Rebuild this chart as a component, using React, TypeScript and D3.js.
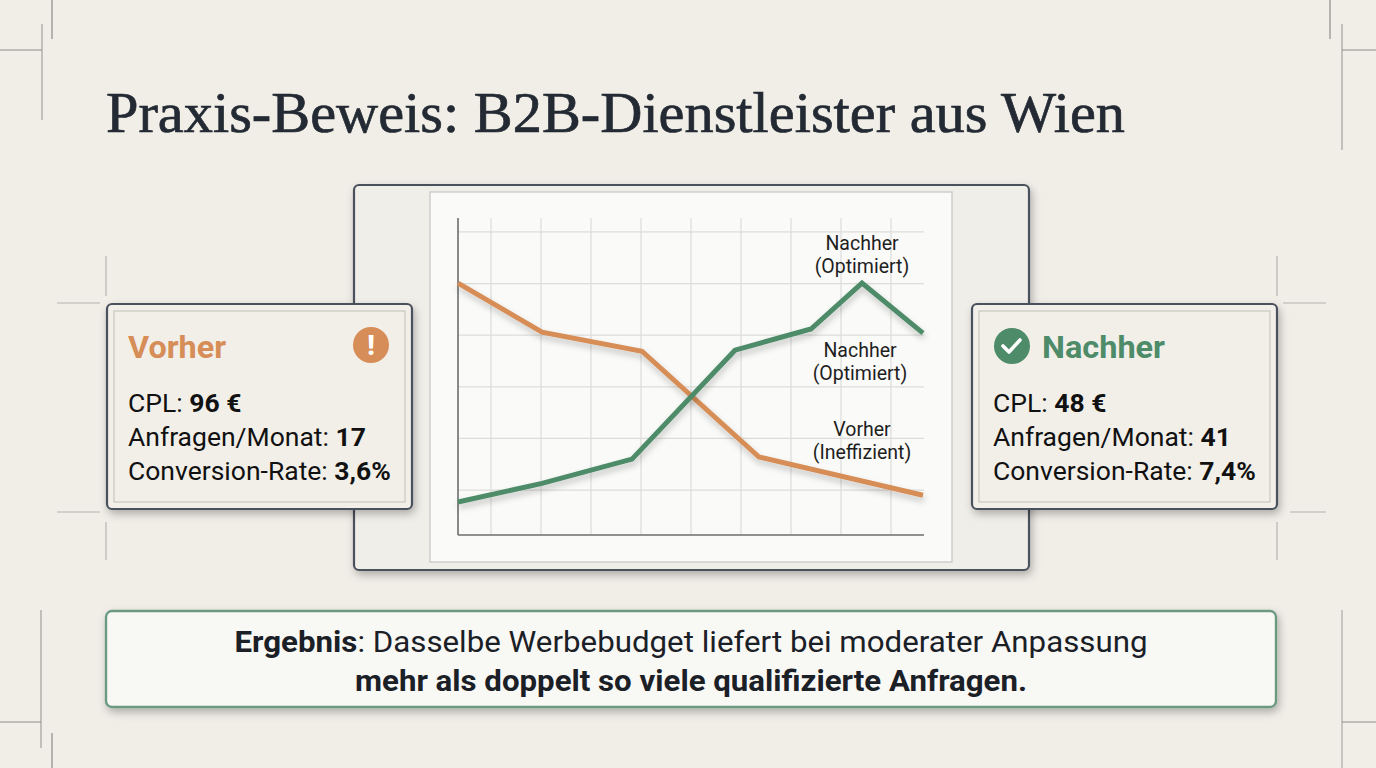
import React from "react";
import * as d3 from "d3";

const titleText = "Praxis-Beweis: B2B-Dienstleister aus Wien";
const xTicks = [1, 2, 3, 4, 5, 6, 7, 8, 9];
const yTicks = [1, 2, 3, 4, 5, 6];
const vorherX = [0.34, 2.02, 4.02, 6.36, 9.64];
const vorherY = [5.01, 4.06, 3.69, 1.64, 0.9];
const nachherX = [0.34, 2.02, 3.82, 5.88, 7.4, 8.42, 9.64];
const nachherY = [0.77, 1.13, 1.6, 3.71, 4.12, 5.01, 4.04];
const chartLabels = [
  { x: 8.42, y: 5.65, l1: "Nachher", l2: "(Optimiert)" },
  { x: 8.38, y: 3.58, l1: "Nachher", l2: "(Optimiert)" },
  { x: 8.42, y: 2.04, l1: "Vorher", l2: "(Ineffizient)" },
];
const vorherMetrics = [
  { label: "CPL: ", value: "96 €" },
  { label: "Anfragen/Monat: ", value: "17" },
  { label: "Conversion-Rate: ", value: "3,6%" },
];
const nachherMetrics = [
  { label: "CPL: ", value: "48 €" },
  { label: "Anfragen/Monat: ", value: "41" },
  { label: "Conversion-Rate: ", value: "7,4%" },
];

const BG = "#f1eee8";
const ORANGE = "#d68d57";
const GREEN = "#4d8b69";
const SANS = "Roboto, 'Noto Sans', sans-serif";

function MetricBox({ x, y, w, h, title, metrics, icon }: any) {
  return (
    <g>
      <rect x={x} y={y} width={w} height={h} rx={5} fill="#f2efe9" stroke="#4a515c" strokeWidth={2.2} filter="url(#shadow)" />
      <rect x={x + 7} y={y + 7} width={w - 14} height={h - 14} fill="none" stroke="#c9c6bf" strokeWidth={1.2} />
      {icon === "warn" && (
        <g>
          <circle cx={x + 264} cy={y + 41} r={18} fill={ORANGE} />
          <text x={x + 264} y={y + 51} textAnchor="middle" fontFamily={SANS} fontWeight={900} fontSize={27} fill="#fff">!</text>
          <text x={x + 21} y={y + 54} fontFamily={SANS} fontWeight={700} fontSize={32} fill={ORANGE} textLength={98} lengthAdjust="spacingAndGlyphs">{title}</text>
        </g>
      )}
      {icon === "check" && (
        <g>
          <circle cx={x + 40} cy={y + 42} r={18} fill={GREEN} />
          <path d={`M${x + 31},${y + 42} l6,6 l11,-12`} fill="none" stroke="#fff" strokeWidth={3.6} strokeLinecap="round" strokeLinejoin="round" />
          <text x={x + 70} y={y + 54} fontFamily={SANS} fontWeight={700} fontSize={32} fill={GREEN} textLength={123} lengthAdjust="spacingAndGlyphs">{title}</text>
        </g>
      )}
      {metrics.map((m: any, i: number) => (
        <text key={i} x={x + 21} y={y + 108 + i * 34} fontFamily={SANS} fontSize={26.5} fill="#111">
          {m.label}
          <tspan fontWeight={700}>{m.value}</tspan>
        </text>
      ))}
    </g>
  );
}

export default function App() {
  const x = d3.scaleLinear().domain([0.34, 9.66]).range([458, 924]);
  const y = d3.scaleLinear().domain([0.13, 6.27]).range([535, 218]);
  const line = d3
    .line<[number, number]>()
    .x((d) => x(d[0]))
    .y((d) => y(d[1]));
  const vData = vorherX.map((v, i) => [v, vorherY[i]] as [number, number]);
  const nData = nachherX.map((v, i) => [v, nachherY[i]] as [number, number]);
  const [x0, x1] = x.range();
  const [y0, y1] = y.range();

  const deco = "#8e8c88";
  return (
    <svg width={1376} height={768} style={{ position: "absolute", left: 0, top: 0 }}>
      <defs>
        <filter id="shadow" x="-10%" y="-10%" width="125%" height="130%">
          <feDropShadow dx={2} dy={4} stdDeviation={4} floodColor="#000" floodOpacity={0.28} />
        </filter>
        <filter id="lshadow" x="-10%" y="-10%" width="120%" height="130%">
          <feDropShadow dx={1} dy={4} stdDeviation={3} floodColor="#000" floodOpacity={0.22} />
        </filter>
        <linearGradient id="fadeR" x1="0" x2="1">
          <stop offset="0" stopColor={deco} stopOpacity={0.9} />
          <stop offset="1" stopColor={deco} stopOpacity={0.1} />
        </linearGradient>
        <linearGradient id="fadeL" x1="1" x2="0">
          <stop offset="0" stopColor={deco} stopOpacity={0.9} />
          <stop offset="1" stopColor={deco} stopOpacity={0.1} />
        </linearGradient>
      </defs>
      <rect width={1376} height={768} fill={BG} />

      {/* decorative corner lines */}
      <g strokeWidth={1.2} fill="none">
        <line x1={52} y1={0} x2={52} y2={39} stroke={deco} />
        <line x1={24} y1={39} x2={176} y2={39} stroke="url(#fadeR)" />
        <line x1={42} y1={24} x2={42} y2={120} stroke={deco} strokeOpacity={0.8} />
        <line x1={0} y1={50} x2={42} y2={50} stroke={deco} />
        <line x1={1330} y1={0} x2={1330} y2={39} stroke={deco} />
        <line x1={1207} y1={39} x2={1358} y2={39} stroke="url(#fadeL)" />
        <line x1={1342} y1={24} x2={1342} y2={150} stroke={deco} strokeOpacity={0.8} />
        <line x1={1342} y1={50} x2={1376} y2={50} stroke={deco} />
        <line x1={41} y1={610} x2={41} y2={748} stroke={deco} strokeOpacity={0.8} />
        <line x1={0} y1={722} x2={41} y2={722} stroke={deco} />
        <line x1={24} y1={733} x2={176} y2={733} stroke="url(#fadeR)" />
        <line x1={52} y1={733} x2={52} y2={768} stroke={deco} />
        <line x1={1342} y1={610} x2={1342} y2={768} stroke={deco} strokeOpacity={0.7} />
        <line x1={1342} y1={722} x2={1376} y2={722} stroke={deco} />
        <line x1={1207} y1={733} x2={1300} y2={733} stroke="url(#fadeL)" />
        <line x1={106} y1={256} x2={106} y2={296} stroke={deco} strokeOpacity={0.6} />
        <line x1={106} y1={522} x2={106} y2={560} stroke={deco} strokeOpacity={0.6} />
        <line x1={57} y1={303} x2={100} y2={303} stroke={deco} strokeOpacity={0.6} />
        <line x1={57} y1={512} x2={100} y2={512} stroke={deco} strokeOpacity={0.6} />
        <line x1={1277} y1={256} x2={1277} y2={296} stroke={deco} strokeOpacity={0.6} />
        <line x1={1277} y1={522} x2={1277} y2={560} stroke={deco} strokeOpacity={0.6} />
        <line x1={1283} y1={303} x2={1326} y2={303} stroke={deco} strokeOpacity={0.6} />
        <line x1={1290} y1={512} x2={1326} y2={512} stroke={deco} strokeOpacity={0.6} />
      </g>

      <text x={106} y={132} fontFamily="'Liberation Serif', 'DejaVu Serif', serif" fontSize={58} fill="#232a33" stroke="#232a33" strokeWidth={0.7} textLength={1019} lengthAdjust="spacingAndGlyphs">
        {titleText}
      </text>

      {/* chart panel */}
      <rect x={354} y={185} width={675} height={385} rx={5} fill="#f0eee9" stroke="#4a515c" strokeWidth={2.2} filter="url(#shadow)" />
      <rect x={430} y={192} width={522} height={370} fill="#fafaf8" stroke="#cfcecb" strokeWidth={1.5} />
      <g stroke="#dcdcda" strokeWidth={1.2}>
        {xTicks.map((t) => (
          <line key={"x" + t} x1={x(t)} x2={x(t)} y1={y0} y2={y1} />
        ))}
        {yTicks.map((t) => (
          <line key={"y" + t} x1={x0} x2={x1} y1={y(t)} y2={y(t)} />
        ))}
      </g>
      <line x1={x0} x2={x0} y1={y1} y2={y0} stroke="#6d6d6d" strokeWidth={1.6} />
      <line x1={x0} x2={x1} y1={y0} y2={y0} stroke="#6d6d6d" strokeWidth={1.6} />
      <path d={line(vData) || ""} fill="none" stroke={ORANGE} strokeWidth={5} strokeLinejoin="miter" filter="url(#lshadow)" />
      <path d={line(nData) || ""} fill="none" stroke={GREEN} strokeWidth={5} strokeLinejoin="miter" filter="url(#lshadow)" />
      {chartLabels.map((l, i) => (
        <text key={i} x={x(l.x)} y={y(l.y)} textAnchor="middle" fontFamily={SANS} fontSize={19.5} fill="#1e1e1e">
          <tspan x={x(l.x)} dy={0}>{l.l1}</tspan>
          <tspan x={x(l.x)} dy={23}>{l.l2}</tspan>
        </text>
      ))}

      <MetricBox x={107} y={304} w={305} h={205} title="Vorher" metrics={vorherMetrics} icon="warn" />
      <MetricBox x={972} y={304} w={305} h={205} title="Nachher" metrics={nachherMetrics} icon="check" />

      {/* result box */}
      <rect x={106} y={611} width={1170} height={96} rx={6} fill="#f8f8f5" stroke="#6b9a80" strokeWidth={2.4} filter="url(#shadow)" />
      <text x={691} y={652} textAnchor="middle" fontFamily={SANS} fontSize={29} fill="#1b2027" textLength={913} lengthAdjust="spacingAndGlyphs">
        <tspan fontWeight={700}>Ergebnis</tspan>: Dasselbe Werbebudget liefert bei moderater Anpassung
      </text>
      <text x={691} y={691} textAnchor="middle" fontFamily={SANS} fontSize={29} fontWeight={700} fill="#1b2027" textLength={672} lengthAdjust="spacingAndGlyphs">
        mehr als doppelt so viele qualifizierte Anfragen.
      </text>
    </svg>
  );
}
